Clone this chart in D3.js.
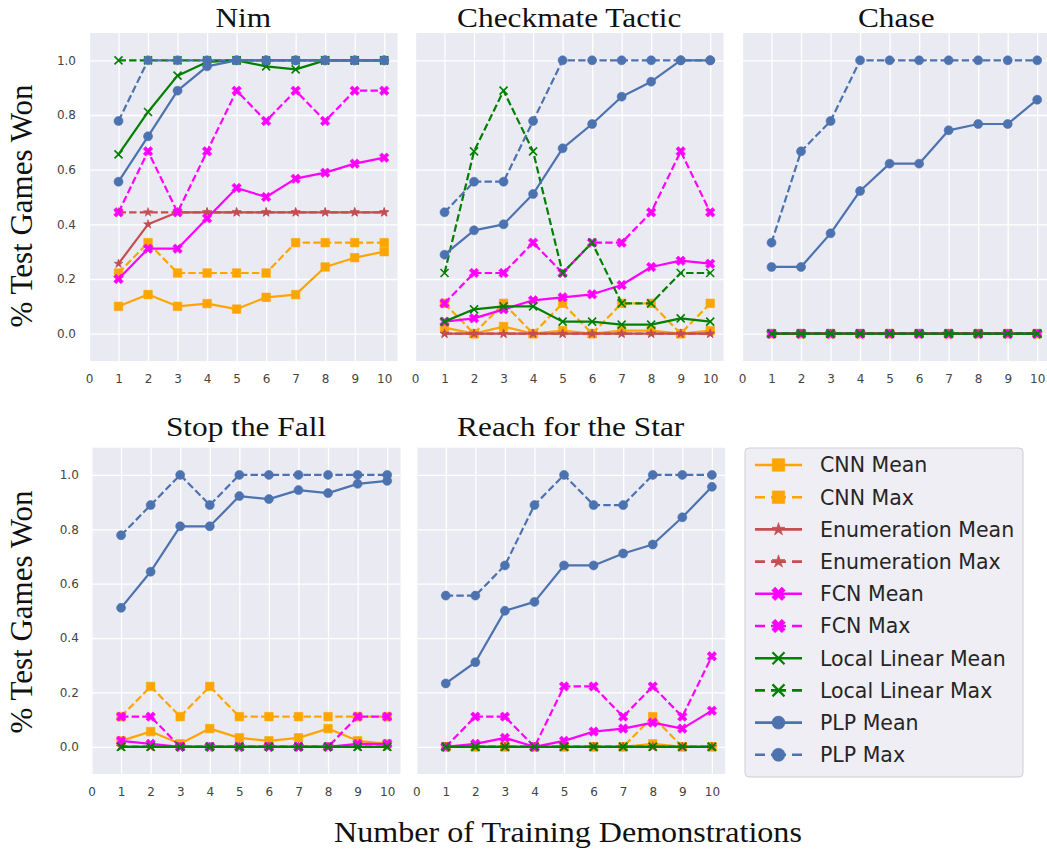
<!DOCTYPE html>
<html><head><meta charset="utf-8">
<script src="https://cdn.jsdelivr.net/npm/d3@7"></script>
<style>body{margin:0;background:#fff} svg{display:block}</style>
</head><body><svg id="c" width="1047" height="852"></svg>
<script>
// ---------------- DATA ----------------
const demos = [1,2,3,4,5,6,7,8,9,10];
const xTicks = [0,1,2,3,4,5,6,7,8,9,10];
const yTicks = [0,0.2,0.4,0.6,0.8,1.0];
const games = ["Nim","Checkmate Tactic","Chase","Stop the Fall","Reach for the Star"];
const seriesNames = ["CNN Mean","CNN Max","Enumeration Mean","Enumeration Max","FCN Mean","FCN Max","Local Linear Mean","Local Linear Max","PLP Mean","PLP Max"];

// Nim
const nimCnnMean  = [0.100,0.143,0.100,0.110,0.090,0.133,0.143,0.244,0.278,0.300];
const nimCnnMax   = [0.222,0.333,0.222,0.222,0.222,0.222,0.333,0.333,0.333,0.333];
const nimEnumMean = [0.256,0.400,0.444,0.444,0.444,0.444,0.444,0.444,0.444,0.444];
const nimEnumMax  = [0.444,0.444,0.444,0.444,0.444,0.444,0.444,0.444,0.444,0.444];
const nimFcnMean  = [0.200,0.311,0.311,0.422,0.533,0.500,0.567,0.589,0.622,0.644];
const nimFcnMax   = [0.444,0.667,0.444,0.667,0.889,0.778,0.889,0.778,0.889,0.889];
const nimLlMean   = [0.656,0.811,0.944,0.994,1.000,0.978,0.967,1.000,1.000,1.000];
const nimLlMax    = [1,1,1,1,1,1,1,1,1,1];
const nimPlpMean  = [0.556,0.722,0.889,0.978,1.000,1.000,1.000,1.000,1.000,1.000];
const nimPlpMax   = [0.778,1,1,1,1,1,1,1,1,1];

// Checkmate Tactic
const cmCnnMean  = [0.022,0,0.026,0,0.011,0,0.011,0.011,0,0.011];
const cmCnnMax   = [0.111,0,0.111,0,0.111,0,0.111,0.111,0,0.111];
const cmEnumMean = [0,0,0,0,0,0,0,0,0,0];
const cmEnumMax  = [0,0,0,0,0,0,0,0,0,0];
const cmFcnMean  = [0.044,0.056,0.089,0.122,0.133,0.144,0.178,0.244,0.267,0.256];
const cmFcnMax   = [0.111,0.222,0.222,0.333,0.222,0.333,0.333,0.444,0.667,0.444];
const cmLlMean   = [0.044,0.089,0.100,0.100,0.044,0.044,0.033,0.033,0.056,0.044];
const cmLlMax    = [0.222,0.667,0.889,0.667,0.222,0.333,0.111,0.111,0.222,0.222];
const cmPlpMean  = [0.289,0.378,0.400,0.511,0.678,0.767,0.867,0.922,1.000,1.000];
const cmPlpMax   = [0.444,0.556,0.556,0.778,1,1,1,1,1,1];

// Chase
const chCnnMean  = [0,0,0,0,0,0,0,0,0,0];
const chCnnMax   = [0,0,0,0,0,0,0,0,0,0];
const chEnumMean = [0,0,0,0,0,0,0,0,0,0];
const chEnumMax  = [0,0,0,0,0,0,0,0,0,0];
const chFcnMean  = [0,0,0,0,0,0,0,0,0,0];
const chFcnMax   = [0,0,0,0,0,0,0,0,0,0];
const chLlMean   = [0,0,0,0,0,0,0,0,0,0];
const chLlMax    = [0,0,0,0,0,0,0,0,0,0];
const chPlpMean  = [0.244,0.244,0.367,0.522,0.622,0.622,0.744,0.767,0.767,0.856];
const chPlpMax   = [0.333,0.667,0.778,1,1,1,1,1,1,1];

// Stop the Fall
const sfCnnMean  = [0.022,0.056,0.011,0.067,0.033,0.022,0.033,0.067,0.022,0.011];
const sfCnnMax   = [0.111,0.222,0.111,0.222,0.111,0.111,0.111,0.111,0.111,0.111];
const sfEnumMean = [0,0,0,0,0,0,0,0,0,0];
const sfEnumMax  = [0,0,0,0,0,0,0,0,0,0];
const sfFcnMean  = [0.022,0.011,0,0,0,0,0,0,0.011,0.011];
const sfFcnMax   = [0.111,0.111,0,0,0,0,0,0,0.111,0.111];
const sfLlMean   = [0,0,0,0,0,0,0,0,0,0];
const sfLlMax    = [0,0,0,0,0,0,0,0,0,0];
const sfPlpMean  = [0.511,0.644,0.811,0.811,0.922,0.911,0.944,0.933,0.967,0.978];
const sfPlpMax   = [0.778,0.889,1,0.889,1,1,1,1,1,1];

// Reach for the Star
const rsCnnMean  = [0,0,0,0,0,0,0,0.011,0,0];
const rsCnnMax   = [0,0,0,0,0,0,0,0.111,0,0];
const rsEnumMean = [0,0,0,0,0,0,0,0,0,0];
const rsEnumMax  = [0,0,0,0,0,0,0,0,0,0];
const rsFcnMean  = [0,0.011,0.033,0,0.022,0.056,0.067,0.089,0.067,0.133];
const rsFcnMax   = [0,0.111,0.111,0,0.222,0.222,0.111,0.222,0.111,0.333];
const rsLlMean   = [0,0,0,0,0,0,0,0,0,0];
const rsLlMax    = [0,0,0,0,0,0,0,0,0,0];
const rsPlpMean  = [0.233,0.311,0.500,0.533,0.667,0.667,0.711,0.744,0.844,0.956];
const rsPlpMax   = [0.556,0.556,0.667,0.889,1,0.889,0.889,1,1,1];

const gameSeries = [
  [nimCnnMean,nimCnnMax,nimEnumMean,nimEnumMax,nimFcnMean,nimFcnMax,nimLlMean,nimLlMax,nimPlpMean,nimPlpMax],
  [cmCnnMean,cmCnnMax,cmEnumMean,cmEnumMax,cmFcnMean,cmFcnMax,cmLlMean,cmLlMax,cmPlpMean,cmPlpMax],
  [chCnnMean,chCnnMax,chEnumMean,chEnumMax,chFcnMean,chFcnMax,chLlMean,chLlMax,chPlpMean,chPlpMax],
  [sfCnnMean,sfCnnMax,sfEnumMean,sfEnumMax,sfFcnMean,sfFcnMax,sfLlMean,sfLlMax,sfPlpMean,sfPlpMax],
  [rsCnnMean,rsCnnMax,rsEnumMean,rsEnumMax,rsFcnMean,rsFcnMax,rsLlMean,rsLlMax,rsPlpMean,rsPlpMax]
];

// ---------------- STYLE / LAYOUT ----------------
const seriesStyle = [
  {color:"#FFA500", marker:"square", dashed:false},
  {color:"#FFA500", marker:"square", dashed:true},
  {color:"#C44E52", marker:"star",   dashed:false},
  {color:"#C44E52", marker:"star",   dashed:true},
  {color:"#FF00FF", marker:"Xfill",  dashed:false},
  {color:"#FF00FF", marker:"Xfill",  dashed:true},
  {color:"#008000", marker:"x",      dashed:false},
  {color:"#008000", marker:"x",      dashed:true},
  {color:"#4C72B0", marker:"circle", dashed:false},
  {color:"#4C72B0", marker:"circle", dashed:true}
];
const panels = [
  {x0:89,    w:308.5, top:33,    bottom:361, titleY:26.5, yPad:13,   yLabels:true},
  {x0:415,   w:308.5, top:33,    bottom:361, titleY:26.5, yPad:13,   yLabels:false},
  {x0:742,   w:308.5, top:33,    bottom:361, titleY:26.5, yPad:13,   yLabels:false},
  {x0:91.5,  w:309,   top:447.7, bottom:774, titleY:436,  yPad:12.7, yLabels:true},
  {x0:416.2, w:309,   top:447.7, bottom:774, titleY:436,  yPad:12.7, yLabels:false}
];
const SERIF = "'Liberation Serif','Times New Roman',serif";
const SANS  = "'DejaVu Sans',sans-serif";

const svg = d3.select("#c");
svg.append("rect").attr("width",1047).attr("height",852).attr("fill","#fff");

function markerPath(kind, s){
  if(kind==="square") return d3.symbol(d3.symbolSquare, s*s)();
  if(kind==="circle") return d3.symbol(d3.symbolCircle, Math.PI*(s/2)*(s/2))();
  if(kind==="star"){ const r=s/2*1.05; return d3.symbol(d3.symbolStar, r*r/0.8908130915292852)(); }
  if(kind==="Xfill"){ const r=(s/2)/2.83; return d3.symbol(d3.symbolCross, 5*(2*r)*(2*r))(); }
  if(kind==="x"){ const r=s/2; return `M${-r},${-r}L${r},${r}M${-r},${r}L${r},${-r}`; }
}
function drawMarker(g, kind, color, cx, cy, s, xw){
  const p = g.append("path").attr("d", markerPath(kind,s))
    .attr("transform", `translate(${cx},${cy})` + (kind==="Xfill" ? " rotate(45)" : ""));
  if(kind==="x") p.attr("fill","none").attr("stroke",color).attr("stroke-width",xw||1.6);
  else p.attr("fill",color).attr("stroke",color).attr("stroke-width",0.6);
}

panels.forEach((P, gi) => {
  const x = d3.scaleLinear().domain([0,10.45]).range([P.x0, P.x0+P.w]);
  const y = d3.scaleLinear().domain([-0.1,1.1]).range([P.bottom, P.top]);
  const h = P.bottom - P.top;
  const g = svg.append("g");
  g.append("rect").attr("x",P.x0).attr("y",P.top).attr("width",P.w).attr("height",h).attr("fill","#EAEAF2");

  const xa = g.append("g").attr("transform",`translate(0,${P.bottom})`)
    .call(d3.axisBottom(x).tickValues(xTicks).tickFormat(d3.format("d")).tickSize(-h).tickPadding(13.5));
  const ya = g.append("g").attr("transform",`translate(${P.x0},0)`)
    .call(d3.axisLeft(y).tickValues(yTicks).tickFormat(P.yLabels ? d3.format(".1f") : () => "")
      .tickSize(-P.w).tickPadding(P.yPad));
  [xa,ya].forEach(a=>{
    a.select(".domain").remove();
    a.selectAll(".tick line").attr("stroke","#fff").attr("stroke-width",1.3);
    a.selectAll(".tick text").attr("fill","#444").style("font-family",SANS).style("font-size","12px");
  });

  const line = d3.line().x((d,i)=>x(demos[i])).y(d=>y(d));
  gameSeries[gi].forEach((vals, si) => {
    const st = seriesStyle[si];
    const sg = g.append("g");
    sg.append("path").datum(vals).attr("d", line)
      .attr("fill","none").attr("stroke",st.color).attr("stroke-width",2.2)
      .attr("stroke-linejoin","round")
      .attr("stroke-linecap", st.dashed ? "butt" : "round")
      .attr("stroke-dasharray", st.dashed ? "7.4,3.2" : null);
    vals.forEach((v,i)=>{
      const sz = st.marker==="circle" ? 9 : st.marker==="square" ? 8.5 : st.marker==="star" ? 9 : st.marker==="Xfill" ? 9.5 : 8;
      drawMarker(sg, st.marker, st.color, x(demos[i]), y(v), sz, 1.6);
    });
  });

  svg.append("text").attr("transform",`translate(${P.x0+P.w/2},${P.titleY}) scale(1.12,1)`)
    .attr("text-anchor","middle").style("font-family",SERIF).style("font-size","28px")
    .attr("fill","#111").text(games[gi]);
});

// y labels
[[206],[612]].forEach(([cy])=>{
  svg.append("text").attr("transform",`translate(32,${cy}) rotate(-90)`)
    .attr("text-anchor","middle").style("font-family",SERIF).style("font-size","31px")
    .attr("fill","#111").text("% Test Games Won");
});
// x label
svg.append("text").attr("transform",`translate(568,842) scale(1.07,1)`)
  .attr("text-anchor","middle").style("font-family",SERIF).style("font-size","30px")
  .attr("fill","#111").text("Number of Training Demonstrations");

// legend
const L = {x:745, y:448, w:278, h:329, row0:465, dy:32.2, lx1:755, lx2:802, mx:778.5, tx:820};
const lg = svg.append("g");
lg.append("rect").attr("x",L.x).attr("y",L.y).attr("width",L.w).attr("height",L.h).attr("rx",4)
  .attr("fill","#EEEEF4").attr("stroke","#cfcfcf").attr("stroke-width",1);
seriesNames.forEach((name, i)=>{
  const st = seriesStyle[i];
  const cy = L.row0 + i*L.dy;
  lg.append("line").attr("x1",L.lx1).attr("x2",L.lx2).attr("y1",cy).attr("y2",cy)
    .attr("stroke",st.color).attr("stroke-width",2.6)
    .attr("stroke-dasharray", st.dashed ? "10,6,15,6,10" : null);
  const sz = st.marker==="circle" ? 13 : st.marker==="square" ? 12.5 : st.marker==="star" ? 13 : st.marker==="Xfill" ? 13.5 : 12;
  drawMarker(lg, st.marker, st.color, L.mx, cy, sz, 2.2);
  lg.append("text").attr("x",L.tx).attr("y",cy).attr("dy","0.36em")
    .style("font-family",SANS).style("font-size","20.5px").attr("fill","#262626").text(name);
});
</script></body></html>
